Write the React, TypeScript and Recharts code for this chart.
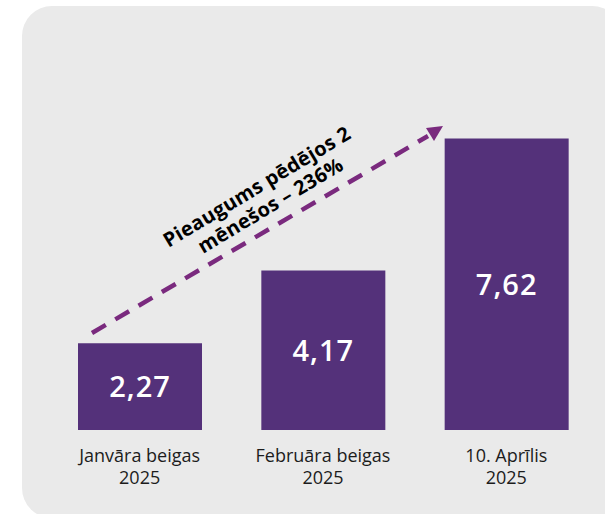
import React from 'react';
import { BarChart, Bar, XAxis, YAxis, LabelList } from 'recharts';

const categories = ['Janvāra beigas|2025', 'Februāra beigas|2025', '10. Aprīlis|2025'];
const values = [2.27, 4.17, 7.62];

const BAR_COLOR = '#54317a';
const ARROW_COLOR = '#7a2a7e';

const data = categories.map((c, i) => ({ name: c, value: values[i] }));

const fmt = (v: any) => Number(v).toFixed(2).replace('.', ',');

function CategoryTick(props: any) {
    const { x, y, payload } = props;
    const lines = String(payload.value).split('|');
    return (
        <text
            x={x}
            y={y}
            textAnchor="middle"
            fill="#1c1c1c"
            fontSize={18}
            fontFamily="'Open Sans', sans-serif"
        >
            {lines.map((l, i) => (
                <tspan key={i} x={x} dy={i === 0 ? 24 : 22}>{l}</tspan>
            ))}
        </text>
    );
}

function GrowthArrow() {
    return (
        <svg width={605} height={514} style={{ position: 'absolute', left: 0, top: 0, pointerEvents: 'none' }}>
            <line
                x1={92}
                y1={333}
                x2={428}
                y2={136}
                stroke={ARROW_COLOR}
                strokeWidth={4.5}
                strokeDasharray="16 11"
            />
            <polygon points="426,128 443,126 434,141" fill={ARROW_COLOR} />
            <text
                transform="rotate(-31 263 197)"
                textAnchor="middle"
                fontSize={20}
                fontWeight={700}
                fontFamily="'Open Sans', sans-serif"
                fill="#000"
                letterSpacing={0.3}
            >
                <tspan x={263} y={192}>Pieaugums pēdējos 2</tspan>
                <tspan x={265} y={215}>mēnešos – 236%</tspan>
            </text>
        </svg>
    );
}

export default function App() {
    return (
        <div style={{ position: 'absolute', left: 0, top: 0, width: 605, height: 514, overflow: 'hidden', background: '#fff' }}>
            <div
                style={{
                    position: 'absolute',
                    left: 22,
                    top: 6,
                    width: 600,
                    height: 512,
                    borderRadius: 30,
                    background: '#eaeaea',
                }}
            />
            <div style={{ position: 'absolute', left: 0, top: 0 }}>
                <BarChart
                    width={605}
                    height={514}
                    data={data}
                    margin={{ top: 124, right: 7, bottom: 24, left: 48 }}
                >
                    <YAxis hide domain={[0, 8]} />
                    <XAxis
                        dataKey="name"
                        axisLine={false}
                        tickLine={false}
                        height={60}
                        interval={0}
                        tick={<CategoryTick />}
                    />
                    <Bar dataKey="value" fill={BAR_COLOR} barSize={124} isAnimationActive={false}>
                        <LabelList
                            dataKey="value"
                            position="center"
                            formatter={fmt}
                            fill="#fff"
                            fontSize={29}
                            fontWeight={600}
                            letterSpacing={1}
                            fontFamily="'Open Sans', sans-serif"
                        />
                    </Bar>
                </BarChart>
            </div>
            <GrowthArrow />
        </div>
    );
}
